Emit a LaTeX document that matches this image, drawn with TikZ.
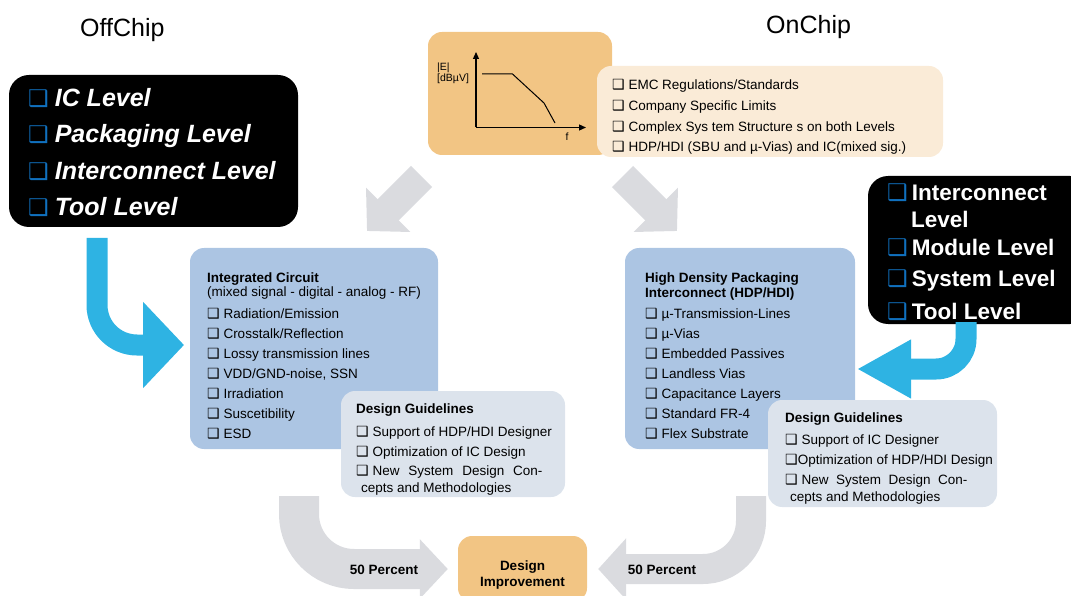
\documentclass[tikz,border=0pt]{standalone}
\usepackage{fontspec}
\setmainfont{Liberation Sans}
\newfontfamily\symfont{DejaVu Sans}
\usetikzlibrary{arrows.meta}
\definecolor{chartorange}{RGB}{242,197,132}
\definecolor{normbeige}{RGB}{250,235,215}
\definecolor{icblue}{RGB}{172,197,227}
\definecolor{guidegray}{RGB}{220,227,236}
\definecolor{flowgray}{RGB}{218,219,223}
\definecolor{flowblue}{RGB}{46,179,227}
\definecolor{tickblue}{RGB}{16,112,190}
\newcommand{\bx}{{\fontsize{14}{14}\symfont\bfseries ❑}}
\newcommand{\bbx}{{\color{tickblue}\fontsize{23}{23}\symfont\bfseries ❑}}

\begin{document}
\begin{tikzpicture}[x=1pt,y=-1pt,
		panel/.style={rounded corners=14pt, inner sep=0pt},
		txt/.style={anchor=west, inner sep=0pt, text height=9.7pt, text depth=0pt, font=\fontsize{13.5}{16}\selectfont},
		bold/.style={txt, font=\fontsize{13.5}{16}\selectfont\bfseries},
		offtxt/.style={anchor=west, inner sep=0pt, text height=18pt, text depth=0pt, text=white, font=\fontsize{25}{30}\selectfont\bfseries\itshape},
		ontxt/.style={offtxt, text height=16pt, font=\fontsize{22.5}{27}\selectfont\bfseries},
		graytrack/.style={draw=flowgray, line cap=butt},
		bluetrack/.style={draw=flowblue, line cap=butt},
		axis/.style={line width=1.2pt, -{Triangle[length=7pt,width=6pt]}}]
			\clip (0,0) rectangle (1071,596);

			\node[anchor=west, inner sep=0pt, text height=18pt, text depth=0pt, font=\fontsize{25}{30}\selectfont] (offlabel) at (80,28) {OffChip};
			\node[anchor=west, inner sep=0pt, text height=18pt, text depth=0pt, font=\fontsize{25}{30}\selectfont] (onlabel) at (766,25) {OnChip};

			\node[panel, fill=chartorange, minimum width=184pt, minimum height=123pt] (chart) at (520,93.5) {};
			\draw[axis] (476,127.5) -- (476,52);
			\draw[axis] (476,127.5) -- (586,127.5);
			\draw[line width=1pt] (482,74) -- (512.5,74) -- (544,103) -- (555,123);
			\node[anchor=west, inner sep=0pt, font=\fontsize{10.5}{12}\selectfont] (elabel) at (437,67.5) {|E|};
			\node[anchor=west, inner sep=0pt, font=\fontsize{10.5}{12}\selectfont] (ulabel) at (437,78.5) {[dBµV]};
			\node[inner sep=0pt, font=\fontsize{10.5}{12}\selectfont] (flabel) at (567,137) {f};

			\node[panel, fill=normbeige, minimum width=346pt, minimum height=91pt] (norms) at (770,111.5) {};
			\node[txt] (norm1) at (612,85) {\bx\ EMC Regulations/Standards};
			\node[txt] (norm2) at (612,106) {\bx\ Company Specific Limits};
			\node[txt] (norm3) at (612,127) {\bx\ Complex Sys tem Structure s on both Levels};
			\node[txt] (norm4) at (612,147) {\bx\ HDP/HDI (SBU and µ-Vias) and IC(mixed sig.)};

			\coordinate (ltail) at (421.5,176.5);
			\coordinate (lhead) at (367,231);
			\coordinate (rtail) at (622.5,176.5);
			\coordinate (rhead) at (677,231);
			\draw[graytrack, line width=30pt, -{Triangle[length=30pt,width=61pt]}] (ltail) -- (lhead);
			\draw[graytrack, line width=30pt, -{Triangle[length=30pt,width=61pt]}] (rtail) -- (rhead);

			\node[panel, fill=icblue, minimum width=248pt, minimum height=201pt] (ic) at (314,348.5) {};
			\node[bold] (ic0) at (207,278) {Integrated Circuit};
			\node[txt] (ic00) at (207,291.5) {(mixed signal - digital - analog - RF)};
			\node[txt] (ic1) at (207,313.5) {\bx\ Radiation/Emission};
			\node[txt] (ic2) at (207,333.5) {\bx\ Crosstalk/Reflection};
			\node[txt] (ic3) at (207,353.5) {\bx\ Lossy transmission lines};
			\node[txt] (ic4) at (207,374) {\bx\ VDD/GND-noise, SSN};
			\node[txt] (ic5) at (207,394) {\bx\ Irradiation};
			\node[txt] (ic6) at (207,414) {\bx\ Suscetibility};
			\node[txt] (ic7) at (207,434) {\bx\ ESD};

			\node[panel, fill=icblue, minimum width=230pt, minimum height=201pt] (hdp) at (740,348.5) {};
			\node[bold] (hdp0) at (645,277.5) {High Density Packaging};
			\node[bold] (hdp00) at (645,292.5) {Interconnect (HDP/HDI)};
			\node[txt] (hdp1) at (645,313.5) {\bx\ µ-Transmission-Lines};
			\node[txt] (hdp2) at (645,333.5) {\bx\ µ-Vias};
			\node[txt] (hdp3) at (645,353.5) {\bx\ Embedded Passives};
			\node[txt] (hdp4) at (645,374) {\bx\ Landless Vias};
			\node[txt] (hdp5) at (645,394) {\bx\ Capacitance Layers};
			\node[txt] (hdp6) at (645,414) {\bx\ Standard FR-4};
			\node[txt] (hdp7) at (645,434) {\bx\ Flex Substrate};

			\node[panel, fill=guidegray, minimum width=224pt, minimum height=106pt] (icguide) at (453,444) {};
			\node[bold] (icg0) at (356,409) {Design Guidelines};
			\node[txt] (icg1) at (356,432) {\bx\ Support of HDP/HDI Designer};
			\node[txt] (icg2) at (356,451.5) {\bx\ Optimization of IC Design};
			\node[txt] (icg3) at (356,471) {\bx\ \makebox[170pt][s]{New System Design Con-}};
			\node[txt] (icg4) at (361,488) {cepts and Methodologies};

			\node[panel, fill=guidegray, minimum width=229pt, minimum height=107pt] (hdpguide) at (882.5,453.5) {};
			\node[bold] (hdpg0) at (785,418) {Design Guidelines};
			\node[txt] (hdpg1) at (785,440) {\bx\ Support of IC Designer};
			\node[txt] (hdpg2) at (785,459.5) {\bx Optimization of HDP/HDI Design};
			\node[txt] (hdpg3) at (785,480) {\bx\ \makebox[166pt][s]{New System Design Con-}};
			\node[txt] (hdpg4) at (790,497) {cepts and Methodologies};

			\node[panel, fill=black, rounded corners=20pt, minimum width=289pt, minimum height=152pt] (offbox) at (153.5,151) {};
			\node[offtxt] (off1) at (28,97.5) {\bbx\hspace{6pt}IC Level};
			\node[offtxt] (off2) at (28,134) {\bbx\hspace{6pt}Packaging Level};
			\node[offtxt] (off3) at (28,171) {\bbx\hspace{6pt}Interconnect Level};
			\node[offtxt] (off4) at (28,207) {\bbx\hspace{6pt}Tool Level};

			\node[panel, fill=black, rounded corners=20pt, minimum width=222pt, minimum height=148pt] (onbox) at (979,250) {};
			\node[ontxt] (on1) at (887,193) {\bbx\hspace{4pt}Interconnect};
			\node[ontxt] (on11) at (911,220) {Level};
			\node[ontxt] (on2) at (887,247) {\bbx\hspace{4pt}Module Level};
			\node[ontxt] (on3) at (887,278) {\bbx\hspace{4pt}System Level};
			\node[ontxt] (on4) at (887,311.5) {\bbx\hspace{4pt}Tool Level};

			\node[panel, fill=chartorange, minimum width=129pt, minimum height=66pt] (improve) at (522.5,569) {};
			\node[bold, anchor=center] (imp1) at (522.5,566) {Design};
			\node[bold, anchor=center] (imp2) at (522.5,582) {Improvement};

			\coordinate (offtail) at (97,238);
			\coordinate (ichead) at (184,345);
			\coordinate (ontail) at (966,322);
			\coordinate (onhead) at (857,369);
			\draw[bluetrack, line width=21pt, rounded corners=40pt, -{Triangle[length=41pt,width=84pt]}] (offtail) |- (ichead);
			\draw[bluetrack, line width=21pt, rounded corners=30pt, -{Triangle[length=54pt,width=55pt]}] (ontail) |- (onhead);

			\coordinate (ictail) at (299,496);
			\coordinate (hdptail) at (751,496);
			\draw[graytrack, line width=40pt, rounded corners=55pt, shorten >=10pt, -{Triangle[length=28pt,width=58pt]}] (ictail) |- (improve.west);
			\draw[graytrack, line width=30pt, rounded corners=48pt, shorten >=11pt, -{Triangle[length=28pt,width=60pt]}] (hdptail) |- (improve.east);
			\node[bold, anchor=center] (icshare) at (384,570) {50 Percent};
			\node[bold, anchor=center] (hdpshare) at (662,570) {50 Percent};
		\end{tikzpicture}
\end{document}
